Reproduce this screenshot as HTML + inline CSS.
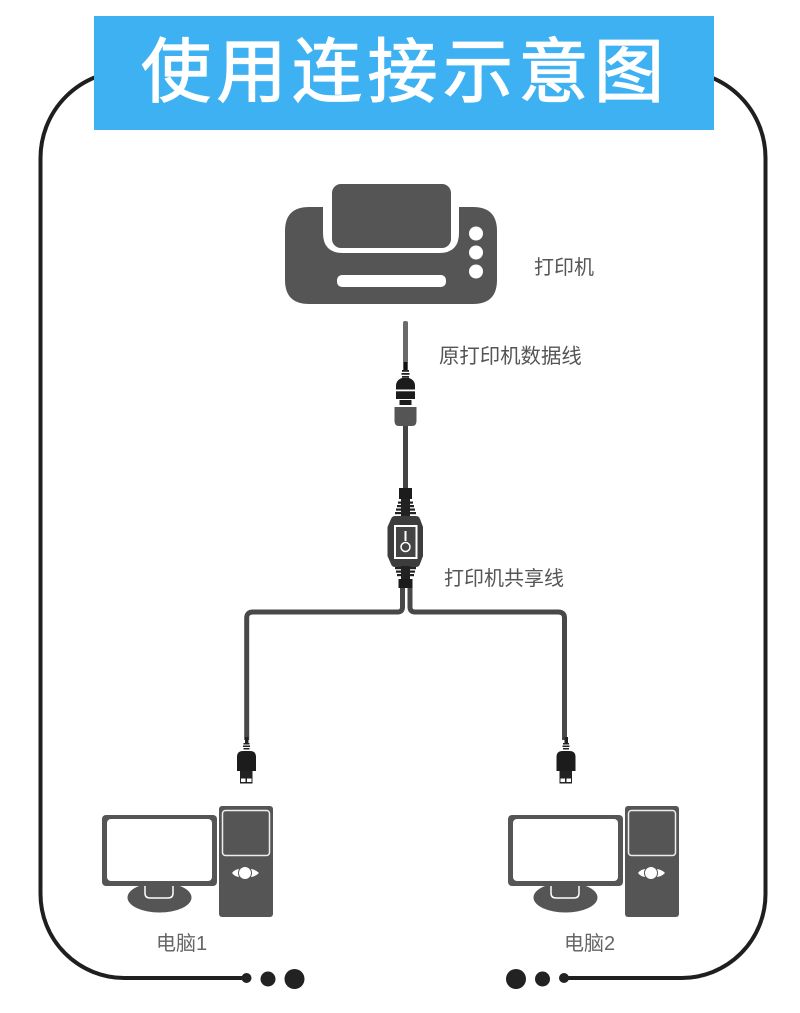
<!DOCTYPE html>
<html><head><meta charset="utf-8">
<style>
html,body{margin:0;padding:0;background:#fff}
body{width:800px;height:1013px;overflow:hidden;position:relative}
svg{position:absolute;left:0;top:0}
text{font-family:"Liberation Sans","Noto Sans CJK SC",sans-serif}
</style></head>
<body>
<svg width="800" height="1013" viewBox="0 0 800 1013" xmlns="http://www.w3.org/2000/svg">
<defs>
<g id="plug">
<rect x="245" y="737" width="3.500" height="7" fill="#222"/>
<g fill="#222"><rect x="243.500" y="743" width="6" height="1.500"/><rect x="243" y="745.500" width="7" height="1.500"/><rect x="243.500" y="748" width="6" height="1.500"/></g>
<path d="M243 751H250Q256 751 256 757V771H237V757Q237 751 243 751Z" fill="#1c1c1c"/>
<rect x="240" y="771" width="12.500" height="12.500" fill="#222"/>
<rect x="241" y="778.500" width="4.500" height="3.500" fill="#fff"/><rect x="247" y="778.500" width="4.500" height="3.500" fill="#fff"/>
</g>
<g id="pc">
<ellipse cx="159.500" cy="897.500" rx="32" ry="15" fill="#555"/>
<path d="M145 885H173V893Q173 898 168 898H150Q145 898 145 893Z" fill="#555" stroke="#fff" stroke-width="1.500"/>
<rect x="102" y="815" width="115" height="71" rx="4" fill="#555"/>
<rect x="107" y="819" width="105" height="62" rx="4" fill="#fff"/>
<rect x="219" y="806" width="54" height="111" rx="3" fill="#555"/>
<rect x="222.500" y="810.500" width="47" height="45" rx="3" fill="#555" stroke="#eee" stroke-width="1.500"/>
<path d="M232 873Q235 869 240 869H250Q255 869 259 873Q255 877 250 877H240Q235 877 232 873Z" fill="#fff"/>
<circle cx="245" cy="873" r="6.500" fill="#fff" stroke="#555" stroke-width="1"/>
</g>
</defs>
<rect width="800" height="1013" fill="#fff"/>
<!-- frame -->
<path d="M246 978H124A84 84 0 0 1 40.500 894V158A87 87 0 0 1 127.500 71H678.500A87 87 0 0 1 765.500 158V894A84 84 0 0 1 682 978H564" fill="none" stroke="#1f1f1f" stroke-width="4"/>
<circle cx="246.500" cy="978" r="5" fill="#222"/><circle cx="268" cy="979" r="7.500" fill="#222"/><circle cx="294.500" cy="979" r="10" fill="#222"/>
<circle cx="516" cy="979" r="10" fill="#222"/><circle cx="542.500" cy="979" r="7.500" fill="#222"/><circle cx="564" cy="978" r="5" fill="#222"/>
<!-- banner -->
<rect x="94" y="16" width="620" height="114" fill="#3db1f2"/>
<text x="141" y="96" font-size="70" letter-spacing="5.500" fill="#fff" stroke="#fff" stroke-width="1.300">使用连接示意图</text>
<!-- printer -->
<path d="M309 207H323V233Q323 253 343 253H439Q459 253 459 233V207H473Q497 207 497 231V280Q497 304 473 304H309Q285 304 285 280V231Q285 207 309 207Z" fill="#555"/>
<rect x="332" y="184" width="119" height="64" rx="9" fill="#555"/>
<rect x="337" y="275" width="109" height="12" rx="5" fill="#fff"/>
<circle cx="476" cy="233.500" r="7" fill="#fff"/><circle cx="476" cy="252.500" r="7" fill="#fff"/><circle cx="476" cy="271.500" r="7" fill="#fff"/>
<text x="534" y="274" font-size="20" fill="#555">打印机</text>
<text x="439" y="363" font-size="20.400" fill="#555">原打印机数据线</text>
<text x="444" y="585" font-size="20" fill="#555">打印机共享线</text>
<text x="156" y="950" font-size="20" fill="#666">电脑1</text>
<text x="564" y="950" font-size="20" fill="#666">电脑2</text>
<!-- top cable and connector -->
<rect x="403" y="321" width="5" height="42" rx="2" fill="#6a6a6a"/>
<rect x="403.300" y="362" width="4.400" height="8" fill="#111"/>
<g fill="#222"><rect x="402" y="370" width="7" height="1.800"/><rect x="401.500" y="373" width="8" height="1.800"/><rect x="402" y="376" width="7" height="1.800"/></g>
<path d="M402 378H409Q415 380 415 386V399H396V386Q396 380 402 378Z" fill="#1c1c1c"/>
<rect x="396" y="389.500" width="19" height="1.800" fill="#fff"/>
<rect x="399.500" y="400" width="12" height="5" fill="#1c1c1c"/>
<path d="M394.500 407H416.500V421Q416.500 426 412 426H399Q394.500 426 394.500 421Z" fill="#555"/>
<rect x="403" y="426" width="5" height="62" fill="#444"/>
<!-- switch -->
<rect x="399" y="488" width="13" height="11" fill="#1c1c1c"/>
<rect x="401" y="499" width="9" height="17" fill="#222"/>
<g fill="#222"><rect x="398" y="501.500" width="15" height="2.200"/><rect x="397" y="505" width="17" height="2.200"/><rect x="396" y="508.500" width="19" height="2.200"/><rect x="395" y="512" width="21" height="2.200"/></g>
<path d="M395 516H416Q419 516 420 519L423 527V556L420 564Q419 567 416 567H395Q392 567 391 564L387.500 556V527L391 519Q392 516 395 516Z" fill="#3c3c3c"/>
<rect x="395" y="526" width="21.500" height="32" fill="#444" stroke="#fff" stroke-width="2"/>
<rect x="404.500" y="531" width="2" height="10" fill="#fff"/>
<circle cx="405.500" cy="547" r="4.500" fill="none" stroke="#fff" stroke-width="1.500"/>
<rect x="401" y="566" width="9" height="14" fill="#222"/>
<g fill="#222"><rect x="395" y="567" width="21" height="2.200"/><rect x="396" y="570.500" width="19" height="2.200"/><rect x="397" y="574" width="17" height="2.200"/></g>
<rect x="398.500" y="579" width="14" height="9" fill="#1c1c1c"/>
<!-- split cables -->
<path d="M402.500 588V607Q402.500 612 397.500 612H253Q246.700 612 246.700 618V740" fill="none" stroke="#484848" stroke-width="5"/>
<path d="M410 588V607Q410 612 415 612H558Q564.500 612 564.500 618V740" fill="none" stroke="#484848" stroke-width="5"/>
<!-- usb plugs -->
<use href="#plug"/>
<use href="#plug" transform="translate(319.500 0)"/>
<!-- computers -->
<use href="#pc"/>
<use href="#pc" transform="translate(406 0)"/>
</svg>
</body></html>
